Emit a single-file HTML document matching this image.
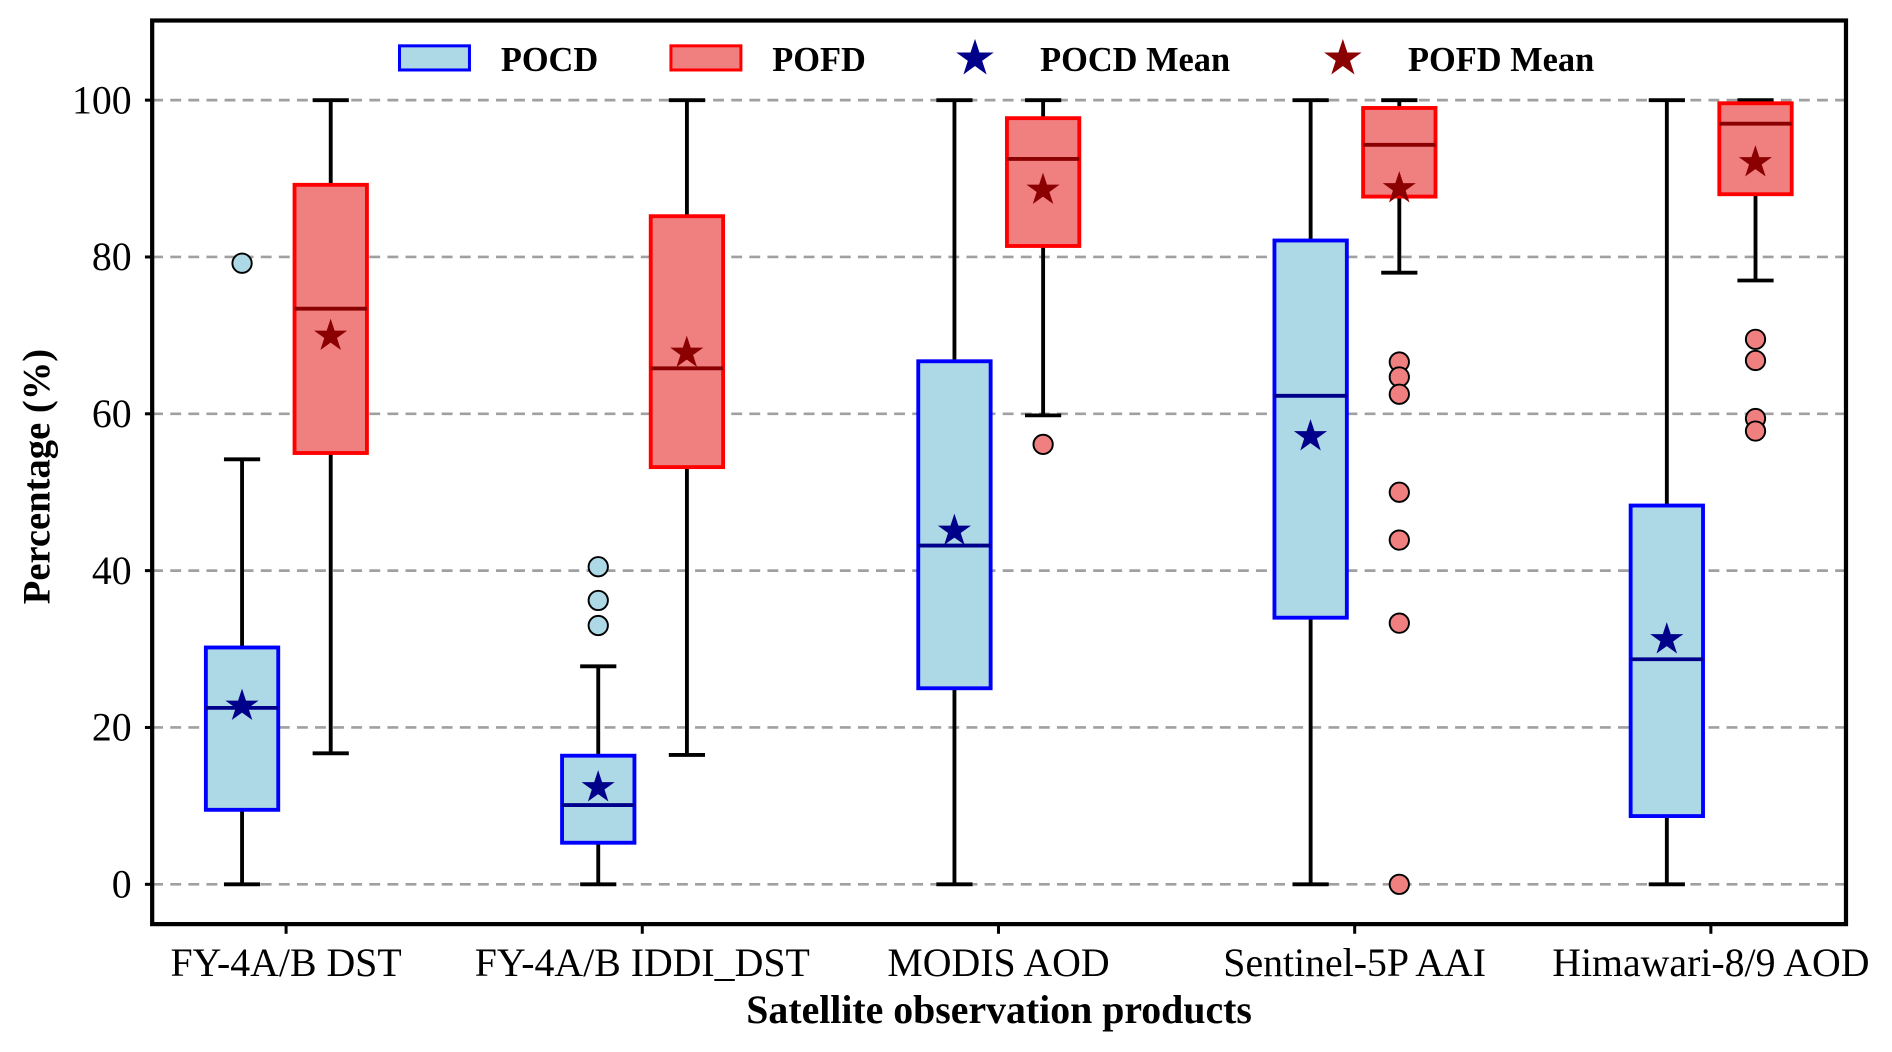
<!DOCTYPE html>
<html><head><meta charset="utf-8"><style>
html,body{margin:0;padding:0;background:#fff;}
svg{display:block;}
text{font-family:"Liberation Serif",serif;}
</style></head><body>
<svg id="chart" width="1892" height="1052" viewBox="0 0 1568 872" xmlns="http://www.w3.org/2000/svg">
<g id="grid"></g>
<g id="marks"></g>
<rect x="126" y="17" width="1404" height="749" fill="none" stroke="#000" stroke-width="3.5"/>
<g id="axes"></g>
<text transform="translate(41,395) rotate(-90)" text-anchor="middle" font-size="32" font-weight="bold">Percentage (%)</text>
<text x="828" y="848" text-anchor="middle" font-size="33" font-weight="bold">Satellite observation products</text>
<g font-size="28.5" font-weight="bold">
 <g><rect x="331" y="38" width="58" height="20" fill="#add8e6" stroke="#0000ff" stroke-width="2.5"/><text x="415" y="59">POCD</text></g>
 <g><rect x="556" y="38" width="58" height="20" fill="#f08080" stroke="#ff0000" stroke-width="2.5"/><text x="640" y="59">POFD</text></g>
 <g><text x="808" y="60" text-anchor="middle" font-size="36" fill="#00008b">★</text><text x="862" y="59">POCD Mean</text></g>
 <g><text x="1113" y="60" text-anchor="middle" font-size="36" fill="#8b0000">★</text><text x="1167" y="59">POFD Mean</text></g>
</g>
</svg>
<script>
const categories=["FY-4A/B DST","FY-4A/B IDDI_DST","MODIS AOD","Sentinel-5P AAI","Himawari-8/9 AOD"];
const yTicks=[0,20,40,60,80,100];
// [whislo,q1,med,q3,whishi]
const pocdStats=[[0,9.5,22.5,30.2,54.2],[0,5.3,10.1,16.4,27.8],[0,25,43.2,66.7,100],[0,34,62.3,82.1,100],[0,8.7,28.7,48.3,100]];
const pofdStats=[[16.7,55,73.4,89.2,100],[16.5,53.2,65.8,85.2,100],[59.8,81.4,92.5,97.7,100],[78,87.7,94.3,99,100],[77,88,97,99.6,100]];
const pocdMean=[22.8,12.4,45.1,57.2,31.3];
const pofdMean=[70,67.8,88.6,88.8,92.1];
const pocdFliers=[[79.2],[33,36.2,40.5],[],[],[]];
const pofdFliers=[[],[],[56.1],[66.6,64.7,62.5,50,43.9,33.3,0],[69.5,66.8,59.4,57.8]];

const NS="http://www.w3.org/2000/svg";
const y=v=>733-v*6.5;
const xc=i=>237+i*295.25;
function mk(tag,attrs,parent){const e=document.createElementNS(NS,tag);for(const k in attrs)e.setAttribute(k,attrs[k]);parent.appendChild(e);return e;}
const grid=document.getElementById('grid'),marks=document.getElementById('marks'),axes=document.getElementById('axes');
yTicks.forEach(t=>{
 const l=mk('line',{x1:126,x2:1530,y1:y(t),y2:y(t),stroke:'#a0a0a0','stroke-width':2.2,'stroke-dasharray':'9,6'},grid);
 
 
 const tk=mk('line',{x1:120,x2:126,y1:y(t),y2:y(t),stroke:'#000','stroke-width':2.5},axes);
 
 
 const tx=mk('text',{x:109,y:y(t)+11,'text-anchor':'end','font-size':33},axes);
 tx.textContent=t;
 
 
});
categories.forEach((c,i)=>{
 const tk=mk('line',{x1:xc(i),x2:xc(i),y1:766,y2:774,stroke:'#000','stroke-width':2.5},axes);
 
 
 const tx=mk('text',{x:xc(i),y:809,'text-anchor':'middle','font-size':33},axes);
 tx.textContent=c;
 
 
});
function box(cx,s,mean,fl,fill,stroke,medc,meanc,name){
 const g=mk('g',{},marks);
 
 
 const [lo,q1,md,q3,hi]=s,w=60;
 mk('line',{x1:cx,x2:cx,y1:y(q1),y2:y(lo),stroke:'#000','stroke-width':3.2},g);
 mk('line',{x1:cx,x2:cx,y1:y(q3),y2:y(hi),stroke:'#000','stroke-width':3.2},g);
 mk('line',{x1:cx-15,x2:cx+15,y1:y(lo),y2:y(lo),stroke:'#000','stroke-width':3.2},g);
 mk('line',{x1:cx-15,x2:cx+15,y1:y(hi),y2:y(hi),stroke:'#000','stroke-width':3.2},g);
 mk('rect',{x:cx-w/2,y:y(q3),width:w,height:y(q1)-y(q3),fill:fill,stroke:stroke,'stroke-width':3.2},g);
 mk('line',{x1:cx-w/2,x2:cx+w/2,y1:y(md),y2:y(md),stroke:medc,'stroke-width':3.2},g);
 fl.forEach(f=>mk('circle',{cx:cx,cy:y(f),r:8,fill:fill,stroke:'#000','stroke-width':1.6},g));
 const st=mk('text',{x:cx,y:y(mean)+10,'text-anchor':'middle','font-size':30,fill:meanc,stroke:meanc,'stroke-width':1.5},g);
 st.textContent='★';
}
categories.forEach((c,i)=>{
 box(xc(i)-36.5,pocdStats[i],pocdMean[i],pocdFliers[i],'#add8e6','#0000ff','#00008b','#00008b','pocd-box-'+i);
 box(xc(i)+37,pofdStats[i],pofdMean[i],pofdFliers[i],'#f08080','#ff0000','#8b0000','#8b0000','pofd-box-'+i);
});
</script>
</body></html>
